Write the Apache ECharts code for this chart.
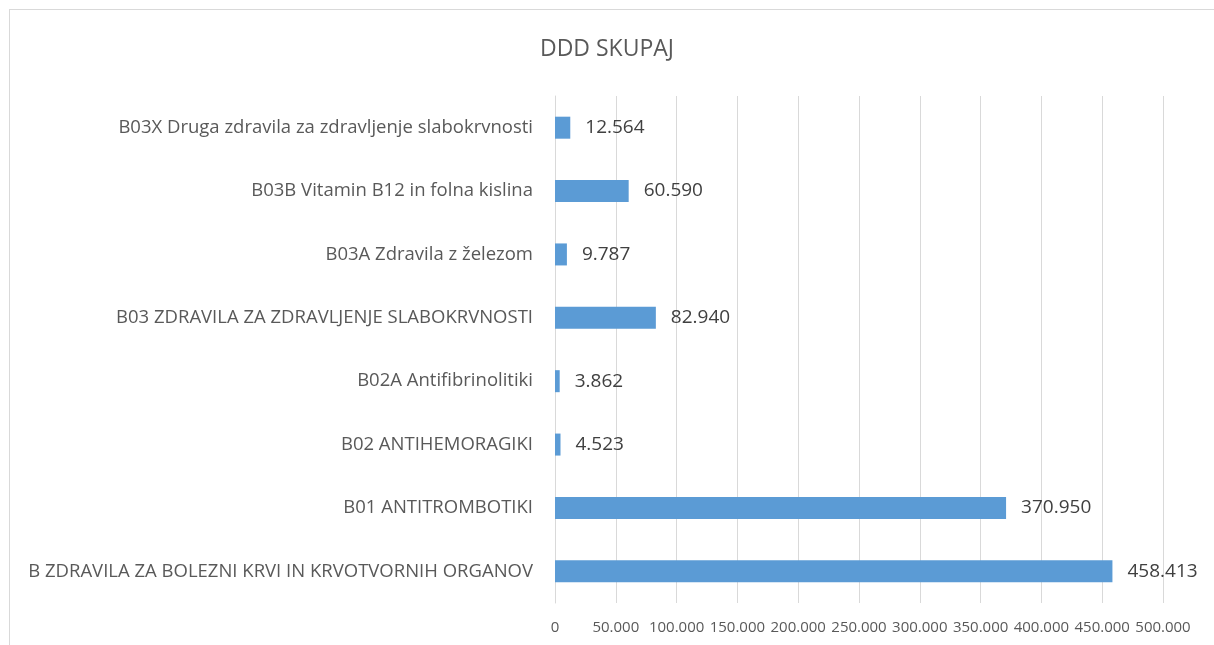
<!DOCTYPE html>
<html>
<head>
<meta charset="utf-8">
<script src="https://cdn.jsdelivr.net/npm/echarts@6/dist/echarts.min.js"></script>
<style>
  html, body { margin: 0; padding: 0; background: #fff; }
  #frame { position: absolute; left: 9px; top: 9px; width: 1210px; height: 640px; border: 1px solid #d9d9d9; box-sizing: border-box; }
  #chart { width: 1214px; height: 645px; position: absolute; left: 0; top: 0; }
</style>
</head>
<body>
<div id="frame"></div>
<div id="chart"></div>
<script>
// Categories listed bottom to top
const categories = [
  'B ZDRAVILA ZA BOLEZNI KRVI IN KRVOTVORNIH ORGANOV',
  'B01 ANTITROMBOTIKI',
  'B02 ANTIHEMORAGIKI',
  'B02A Antifibrinolitiki',
  'B03 ZDRAVILA ZA ZDRAVLJENJE SLABOKRVNOSTI',
  'B03A Zdravila z železom',
  'B03B Vitamin B12 in folna kislina',
  'B03X Druga zdravila za zdravljenje slabokrvnosti'
];
const dddValues = [458413, 370950, 4523, 3862, 82940, 9787, 60590, 12564];
const axisMin = 0;
const axisMax = 500000;
const axisStep = 50000;

// Slovenian-style thousands separator
function fmt(v) {
  return String(Math.round(v)).replace(/\B(?=(\d{3})+(?!\d))/g, '.');
}

const chart = echarts.init(document.getElementById('chart'));
chart.setOption({
  animation: false,
  textStyle: { fontFamily: 'Open Sans' },
  title: {
    text: 'DDD SKUPAJ',
    left: 'center',
    top: 33,
    textStyle: { fontSize: 23, fontWeight: 'normal', color: '#595959', fontFamily: 'Open Sans' }
  },
  grid: { left: 555, right: 51, top: 96, bottom: 42, containLabel: false },
  xAxis: {
    type: 'value',
    min: axisMin,
    max: axisMax,
    interval: axisStep,
    axisLine: { show: false },
    axisTick: { show: false },
    splitLine: { show: true, lineStyle: { color: '#d9d9d9', width: 1 } },
    axisLabel: { color: '#595959', fontSize: 15, margin: 17, formatter: fmt }
  },
  yAxis: {
    type: 'category',
    data: categories,
    axisLine: { show: true, lineStyle: { color: '#d9d9d9' } },
    axisTick: { show: false },
    axisLabel: { color: '#595959', fontSize: 18.5, margin: 22 }
  },
  series: [{
    type: 'bar',
    data: dddValues,
    barWidth: 22,
    itemStyle: { color: '#5b9bd5' },
    label: {
      show: true,
      position: 'right',
      distance: 15,
      color: '#404040',
      fontSize: 19,
      formatter: p => fmt(p.value)
    }
  }]
});
</script>
</body>
</html>
